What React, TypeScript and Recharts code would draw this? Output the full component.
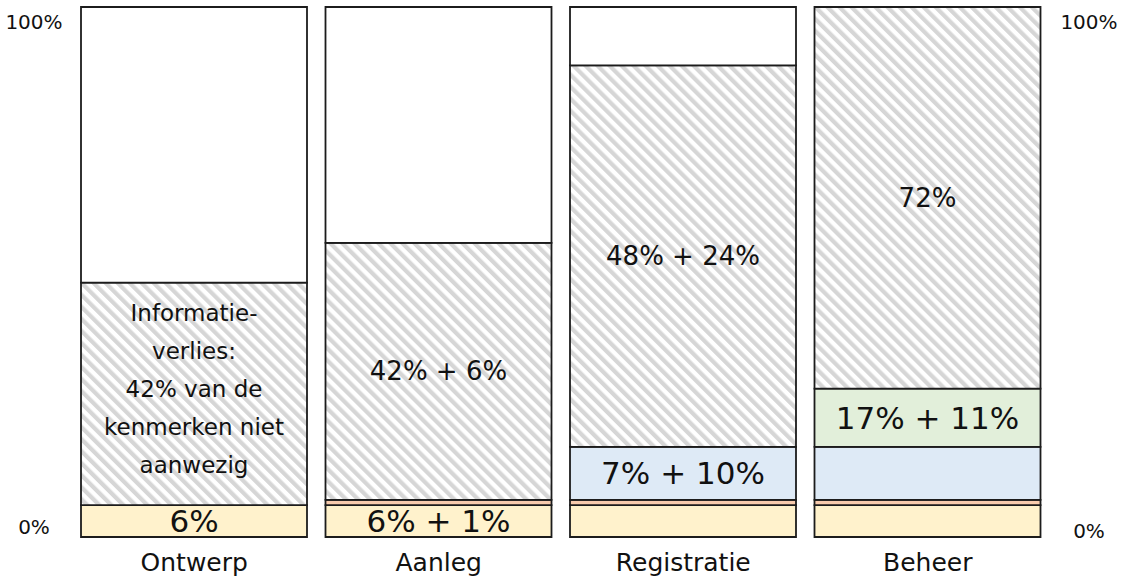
import React from 'react';
import { ComposedChart, Bar, Line, XAxis, YAxis, LabelList } from 'recharts';

const categories = ['Ontwerp', 'Aanleg', 'Registratie', 'Beheer'];
const yellowValues = [6, 6, 6, 6];
const orangeValues = [0, 1, 1, 1];
const blueValues = [0, 0, 10, 10];
const greenValues = [0, 0, 0, 11];
const hatchedValues = [42, 48.5, 72, 72];
const restValues = [52, 44.5, 11, 0];
const yellowLabels = ['6%', '6% + 1%', '', ''];
const blueLabels = ['', '', '7% + 10%', ''];
const greenLabels = ['', '', '', '17% + 11%'];
const hatchedLabels = [
  'Informatie-\nverlies:\n42% van de\nkenmerken niet\naanwezig',
  '42% + 6%',
  '48% + 24%',
  '72%',
];
const yTicks = [0, 100];

const data = categories.map((name, i) => ({
  name,
  yellow: yellowValues[i],
  orange: orangeValues[i],
  blue: blueValues[i],
  green: greenValues[i],
  hatched: hatchedValues[i],
  rest: restValues[i],
  total: 100,
  yellowLabel: yellowLabels[i],
  blueLabel: blueLabels[i],
  greenLabel: greenLabels[i],
  hatchedLabel: hatchedLabels[i],
}));

const FONT = '"DejaVu Sans", sans-serif';
const STROKE = '#1c1c1c';
const SW = 1.8;

const makeLabel = (fontSize: number, multiFontSize: number, lineHeight: number) => (props: any) => {
  const { x, y, width, height, value } = props;
  if (!value) return null;
  const lines = String(value).split('\n');
  const fs = lines.length > 1 ? multiFontSize : fontSize;
  const cx = Number(x) + Number(width) / 2;
  const cy = Number(y) + Number(height) / 2 - (lines.length > 1 ? 5 : 0);
  const startY = cy - ((lines.length - 1) * lineHeight) / 2;
  return (
    <text
      x={cx}
      y={startY}
      textAnchor="middle"
      dominantBaseline="central"
      fontFamily={FONT}
      fontSize={fs}
      fill="#111"
    >
      {lines.map((l, i) => (
        <tspan key={i} x={cx} y={startY + i * lineHeight}>
          {l}
        </tspan>
      ))}
    </text>
  );
};

const XTick = (props: any) => {
  const { x, y, payload } = props;
  return (
    <text x={x} y={y} dy={25} textAnchor="middle" dominantBaseline="central" fontFamily={FONT} fontSize={25} fill="#111">
      {payload.value}
    </text>
  );
};

const makeYTick = (side: 'left' | 'right') => (props: any) => {
  const { x, y, payload } = props;
  const top = payload.value === 100;
  const cx = side === 'left' ? x - 38 : x + 39;
  const dy = top ? 13 : side === 'left' ? -10 : -6;
  return (
    <text x={cx} y={y} dy={dy} textAnchor="middle" dominantBaseline="central" fontFamily={FONT} fontSize={20} fill="#111">
      {payload.value}%
    </text>
  );
};

export default function App() {
  return (
    <div style={{ position: 'absolute', left: 0, top: 0, width: 1130, height: 582, background: '#fff' }}>
      <svg width={0} height={0} style={{ position: 'absolute' }}>
        <defs>
          <pattern id="hatch" patternUnits="userSpaceOnUse" width={8.5} height={8.5} patternTransform="rotate(-45)">
            <rect x={0} y={0} width={8.5} height={8.5} fill="#ffffff" />
            <rect x={0} y={0} width={4.2} height={8.5} fill="#d6d6d6" />
          </pattern>
        </defs>
      </svg>
      <ComposedChart
        width={1130}
        height={582}
        data={data}
        margin={{ top: 7, right: 0, bottom: 0, left: 0 }}
        barSize={226}
      >
        <XAxis
          dataKey="name"
          axisLine={false}
          tickLine={false}
          tickSize={0}
          tickMargin={0}
          height={45}
          tick={<XTick />}
          interval={0}
        />
        <YAxis
          yAxisId="left"
          orientation="left"
          domain={[0, 100]}
          ticks={yTicks}
          axisLine={false}
          tickLine={false}
          tickSize={0}
          tickMargin={0}
          width={72}
          tick={makeYTick('left')}
        />
        <YAxis
          yAxisId="right"
          orientation="right"
          domain={[0, 100]}
          ticks={yTicks}
          axisLine={false}
          tickLine={false}
          tickSize={0}
          tickMargin={0}
          width={80}
          tick={makeYTick('right')}
        />
        <Bar yAxisId="left" dataKey="yellow" stackId="s" fill="#FFF2CC" stroke={STROKE} strokeWidth={SW} isAnimationActive={false}>
          <LabelList dataKey="yellowLabel" content={makeLabel(31, 31, 34)} />
        </Bar>
        <Bar yAxisId="left" dataKey="orange" stackId="s" fill="#F8CBAD" stroke={STROKE} strokeWidth={SW} isAnimationActive={false} />
        <Bar yAxisId="left" dataKey="blue" stackId="s" fill="#DEEAF6" stroke={STROKE} strokeWidth={SW} isAnimationActive={false}>
          <LabelList dataKey="blueLabel" content={makeLabel(31, 31, 34)} />
        </Bar>
        <Bar yAxisId="left" dataKey="green" stackId="s" fill="#E2EFDA" stroke={STROKE} strokeWidth={SW} isAnimationActive={false}>
          <LabelList dataKey="greenLabel" content={makeLabel(31, 31, 34)} />
        </Bar>
        <Bar yAxisId="left" dataKey="hatched" stackId="s" fill="url(#hatch)" stroke={STROKE} strokeWidth={SW} isAnimationActive={false}>
          <LabelList dataKey="hatchedLabel" content={makeLabel(26, 23, 38)} />
        </Bar>
        <Bar yAxisId="left" dataKey="rest" stackId="s" fill="#ffffff" stroke={STROKE} strokeWidth={SW} isAnimationActive={false} />
        <Line
          yAxisId="right"
          dataKey="total"
          stroke="none"
          dot={false}
          activeDot={false}
          legendType="none"
          isAnimationActive={false}
        />
      </ComposedChart>
    </div>
  );
}
